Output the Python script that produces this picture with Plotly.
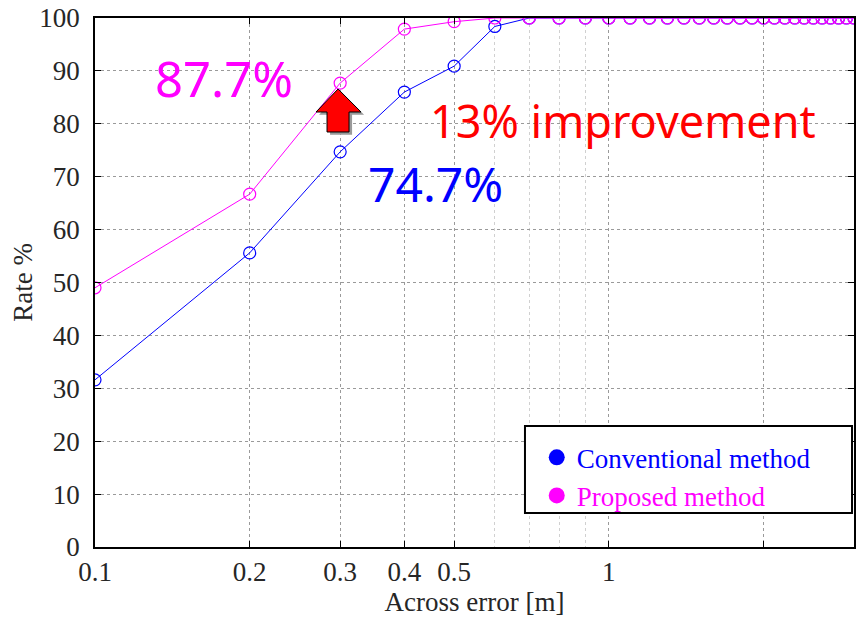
import plotly.graph_objects as go

# Across error thresholds [m]
error_m = [0.1, 0.2, 0.3, 0.4, 0.5, 0.6, 0.7, 0.8, 0.9, 1.0,
           1.1, 1.2, 1.3, 1.4, 1.5, 1.6, 1.7, 1.8, 1.9, 2.0,
           2.1, 2.2, 2.3, 2.4, 2.5, 2.6, 2.7, 2.8, 2.9, 3.0]
conventional = [31.6, 55.6, 74.7, 86.0, 90.9, 98.4, 100, 100, 100, 100,
                100, 100, 100, 100, 100, 100, 100, 100, 100, 100,
                100, 100, 100, 100, 100, 100, 100, 100, 100, 100]
proposed = [49.0, 66.7, 87.7, 97.9, 99.3, 100, 100, 100, 100, 100,
            100, 100, 100, 100, 100, 100, 100, 100, 100, 100,
            100, 100, 100, 100, 100, 100, 100, 100, 100, 100]

x_tickvals = [0.1, 0.2, 0.3, 0.4, 0.5, 1, 2]
x_ticktext = ["0.1", "0.2", "0.3", "0.4", "0.5", "1", ""]
x_minor = [0.6, 0.7, 0.8, 0.9]

BLUE = "#0000ff"
MAGENTA = "#ff00ff"
SERIF = "Liberation Serif, Times New Roman, serif"
SANS = "Noto Sans, DejaVu Sans, sans-serif"

fig = go.Figure()
fig.add_trace(go.Scatter(x=error_m, y=conventional, mode="lines+markers",
                         line=dict(color=BLUE, width=1),
                         marker=dict(symbol="circle-open", size=12, color=BLUE, line=dict(width=1.2)),
                         showlegend=False))
fig.add_trace(go.Scatter(x=error_m, y=proposed, mode="lines+markers",
                         line=dict(color=MAGENTA, width=1),
                         marker=dict(symbol="circle-open", size=12, color=MAGENTA, line=dict(width=1.2)),
                         showlegend=False))
# legend entries (filled dots)
fig.add_trace(go.Scatter(x=[None], y=[None], mode="markers",
                         marker=dict(size=22, color=BLUE),
                         name=f"<span style='color:{BLUE}'>Conventional method</span>"))
fig.add_trace(go.Scatter(x=[None], y=[None], mode="markers",
                         marker=dict(size=22, color=MAGENTA),
                         name=f"<span style='color:{MAGENTA}'>Proposed method</span>"))

# red up arrow (paper coords)
def arrow_path(dx=0.0, dy=0.0):
    pts = [(0.3202, 0.8658), (0.3505, 0.8223), (0.3347, 0.8223), (0.3347, 0.7845),
           (0.3057, 0.7845), (0.3057, 0.8223), (0.2912, 0.8223)]
    s = "M " + " L ".join(f"{x + dx},{y + dy}" for x, y in pts) + " Z"
    return s

fig.add_shape(type="path", xref="paper", yref="paper", path=arrow_path(0.004, -0.005),
              fillcolor="#9a9a9a", line=dict(width=0), layer="above")
fig.add_shape(type="path", xref="paper", yref="paper", path=arrow_path(),
              fillcolor="#ff0000", line=dict(color="black", width=1), layer="above")

# legend frame
fig.add_shape(type="rect", xref="paper", yref="paper", x0=0.5665, x1=0.9974, y0=0.0643, y1=0.2287,
              fillcolor="white", line=dict(color="black", width=2), layer="above")

fig.add_annotation(text="87.7%", xref="paper", yref="paper", x=0.17, y=0.887,
                   xanchor="center", yanchor="middle",
                   showarrow=False, font=dict(family=SANS, size=49, color=MAGENTA))
fig.add_annotation(text="13% improvement", xref="paper", yref="paper", x=0.696, y=0.807,
                   xanchor="center", yanchor="middle",
                   showarrow=False, font=dict(family=SANS, size=45, color="#ff0000"))
fig.add_annotation(text="74.7%", xref="paper", yref="paper", x=0.449, y=0.688,
                   xanchor="center", yanchor="middle",
                   showarrow=False, font=dict(family=SANS, size=48, color=BLUE))

fig.update_layout(
    width=864, height=618,
    margin=dict(l=87, r=18, t=10, b=79),
    paper_bgcolor="white", plot_bgcolor="white",
    font=dict(family=SERIF, size=27, color="#262626"),
    legend=dict(x=0.582, y=0.215, xanchor="left", yanchor="top",
                bgcolor="rgba(0,0,0,0)", borderwidth=0,
                font=dict(family=SERIF, size=27), itemwidth=30,
                tracegroupgap=0),
    xaxis=dict(type="log", range=[-1, 0.47712], automargin=False,
               tickvals=x_tickvals, ticktext=x_ticktext,
               showgrid=True, gridcolor="#9a9a9a", griddash="dot", gridwidth=1,
               ticks="inside", ticklen=6, tickcolor="black",
               showline=True, linecolor="black", linewidth=1.5, mirror="ticks",
               minor=dict(tickvals=x_minor, showgrid=True, gridcolor="#d0d0d0",
                          griddash="dot", ticks=""),
               title=dict(text="Across error [m]", font=dict(size=27), standoff=4),
               zeroline=False),
    yaxis=dict(range=[0, 100], dtick=10, automargin=False,
               showgrid=True, gridcolor="#9a9a9a", griddash="dot", gridwidth=1,
               ticks="inside", ticklen=6, tickcolor="black", ticklabelstandoff=8,
               ticklabeloverflow="allow",
               showline=True, linecolor="black", linewidth=1.5, mirror="ticks",
               title=dict(text="Rate %", font=dict(size=27), standoff=4),
               zeroline=False),
)

fig.write_html("out.html")
